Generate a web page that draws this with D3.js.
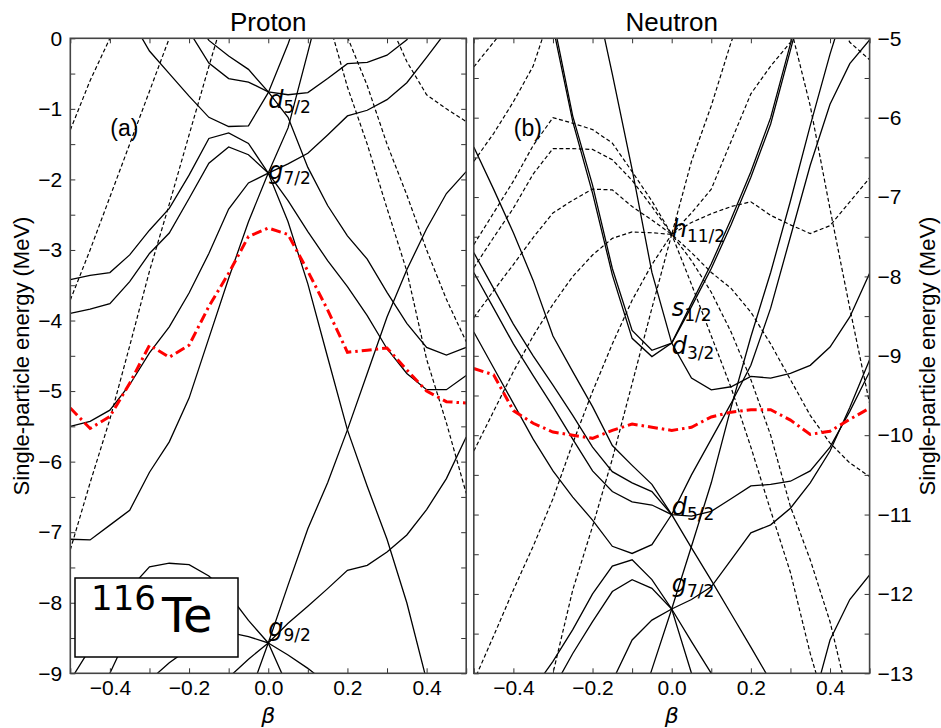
<!DOCTYPE html>
<html>
<head>
<meta charset="utf-8">
<script src="https://cdn.jsdelivr.net/npm/d3@7"></script>
<style>
body { margin: 0; background: #fff; }
</style>
</head>
<body>
<svg id="chart" width="941" height="728"></svg>
<script>
const _ = null;
// deformation grid shared by every level
const betaGrid = [-0.5, -0.45, -0.4, -0.35, -0.3, -0.25, -0.2, -0.15, -0.1, -0.05, 0,
                  0.05, 0.1, 0.15, 0.2, 0.25, 0.3, 0.35, 0.4, 0.45, 0.5];
const xTicks = [-0.5, -0.4, -0.3, -0.2, -0.1, 0, 0.1, 0.2, 0.3, 0.4, 0.5];

// proton levels (MeV), positive parity
const protonSolid = [
  [_, _, _, 0.3, -0.18, -0.5, -0.82, -1.12, -1.25, -1.24, -0.77, -0.08, 0.7, _, _, _, _, _, _, _, _],
  [_, _, _, _, _, _, 0.1, -0.35, -0.57, -0.62, -0.76, -0.8, -0.77, -0.57, -0.36, -0.34, -0.24, -0.02, 0.4, _, _],
  [_, _, _, _, _, _, 0.4, -0.03, -0.25, -0.44, -0.76, -1.12, -1.83, -2.37, -2.8, -3.13, -3.6, -4.04, -4.38, -4.49, -4.38],
  [-3.42, -3.36, -3.32, -3.07, -2.72, -2.41, -1.94, -1.42, -1.34, -1.49, -1.91, -2.3, -2.74, -3.15, -3.52, -3.93, -4.4, -4.75, -4.98, -4.98, -4.78],
  [-3.9, -3.84, -3.76, -3.45, -3.05, -2.76, -2.27, -1.77, -1.54, -1.65, -1.91, -2.6, -3.48, -4.52, -5.55, -6.35, -7.1, -8.0, -9.1, -10.2, _],
  [-5.5, -5.43, -5.27, -4.91, -4.46, -4.09, -3.61, -3.05, -2.42, -2.05, -1.91, -1.78, -1.63, -1.37, -1.1, -1.02, -0.87, -0.63, -0.27, 0.1, _],
  [-7.1, -7.11, -6.9, -6.69, -6.15, -5.72, -5.1, -4.25, -3.4, -2.6, -1.91, -1.27, -0.2, 0.9, _, _, _, _, _, _, _],
  [_, _, _, _, _, _, _, _, _, -9.35, -8.57, -7.75, -6.95, -6.3, -5.55, -4.75, -3.95, -3.28, -2.7, -2.2, -1.89],
  [_, _, _, _, -9.1, -8.85, -8.65, -8.5, -8.42, -8.48, -8.57, -8.29, -8.05, -7.8, -7.54, -7.47, -7.28, -7.04, -6.68, -6.24, -5.65],
  [-9.1, -8.65, -8.2, -7.8, -7.49, -7.44, -7.46, -7.62, -7.88, -8.25, -8.57, -9.2, _, _, _, _, _, _, _, _, _],
  [_, _, _, _, _, _, _, _, -9.06, -8.8, -8.57, -8.74, -8.93, -9.15, _, _, _, _, _, _, _],
  [_, -9.6, -9.0, -8.4, -7.95, _, _, _, _, _, _, _, _, _, _, _, _, _, _, _, _]
];
// proton levels, negative parity
const protonDashed = [
  [-1.3, -0.6, 0.0, 0.6, _, _, _, _, _, _, _, _, _, _, _, _, _, _, _, _, _],
  [-3.71, -3.0, -2.25, -1.5, -0.75, 0.0, 0.7, _, _, _, _, _, _, _, _, _, _, _, _, _, _],
  [-7.25, -6.3, -5.4, -4.36, -3.3, -2.35, -1.37, -0.4, 0.55, _, _, _, _, _, _, _, _, _, _, _, _],
  [_, _, _, _, _, _, _, _, _, _, _, _, _, _, _, _, 0.3, -0.33, -0.8, -1.0, -1.18],
  [_, _, _, _, _, _, _, _, _, _, _, _, _, 0.3, -0.69, -1.5, -2.41, -3.3, -4.55, -5.45, -6.45],
  [_, _, _, _, _, _, _, _, _, _, _, _, _, 0.8, 0.02, -0.67, -1.5, -2.22, -3.0, -3.7, -4.3]
];
const protonFermi = [-5.24, -5.53, -5.36, -4.89, -4.35, -4.52, -4.35, -3.8, -3.33, -2.81, -2.69,
                     -2.78, -3.3, -3.85, -4.45, -4.42, -4.39, -4.7, -5.0, -5.15, -5.17];

// neutron levels (MeV), positive parity
const neutronSolid = [
  [-8.7, -9.15, -9.6, -10.05, -10.45, -10.78, -11.07, -11.4, -11.49, -11.38, -11.0, -10.5, -10.05, -9.6, -9.12, -8.4, -7.5, -6.6, -5.83, -5.32, -5.02],
  [-7.7, -8.15, -8.6, -9.0, -9.37, -9.75, -10.15, -10.46, -10.6, -10.71, -11.0, -11.02, -10.96, -10.8, -10.64, -10.62, -10.58, -10.45, -10.15, -9.7, -9.2],
  [-7.95, -8.4, -8.85, -9.25, -9.64, -10.05, -10.45, -10.71, -10.84, -10.88, -11.0, -11.42, -11.83, -12.25, -12.67, -13.1, _, _, _, _, _],
  [_, _, _, -13.2, -12.85, -12.45, -12.0, -11.65, -11.57, -11.82, -12.19, -12.6, -13.0, -13.4, _, _, _, _, _, _, _],
  [_, _, _, _, -13.2, -12.75, -12.35, -11.97, -11.82, -11.93, -12.19, -13.0, -13.8, _, _, _, _, _, _, _, _],
  [_, _, _, _, _, _, -13.6, -13.1, -12.58, -12.33, -12.19, -12.07, -11.91, -11.57, -11.23, -11.13, -10.92, -10.6, -10.2, -9.65, -9.05],
  [_, _, _, _, _, _, _, _, -13.7, -12.95, -12.19, -11.4, -10.6, -9.65, -8.76, -7.95, -7.05, -6.1, -5.2, -4.4, _],
  [_, _, _, _, _, _, _, _, _, _, _, _, _, _, _, _, _, -13.5, -12.58, -12.07, -11.76],
  [_, _, _, _, -4.75, -5.98, -6.85, -7.9, -8.68, -8.93, -8.84, -8.38, -7.9, -7.35, -6.75, -6.08, -5.15, -4.2, _, _, _],
  [_, _, _, _, -4.85, -6.05, -6.95, -7.98, -8.78, -9.01, -8.84, -8.34, -7.84, -7.28, -6.68, -6.0, -5.07, -4.1, _, _, _],
  [_, _, _, _, _, _, -4.3, -5.45, -6.65, -7.95, -8.84, -9.28, -9.43, -9.39, -9.26, -9.28, -9.22, -9.12, -8.89, -8.51, -7.96],
  [-6.37, -6.9, -7.45, -8.05, -8.75, -9.2, -9.64, -10.13, -10.38, -10.62, -11.0, _, _, _, _, _, _, _, _, _, _]
];
// neutron levels, negative parity
const neutronDashed = [
  [-5.36, -5.05, -4.75, _, _, _, _, _, _, _, _, _, _, _, _, _, _, _, _, _, _],
  [-6.55, -6.2, -5.8, -5.35, -4.6, _, _, _, _, _, _, _, _, _, _, _, _, _, _, _, _],
  [-7.6, -7.2, -6.8, -6.35, -6.0, -6.07, -6.15, -6.32, -6.68, -7.05, -7.47, -6.55, -5.85, -5.05, -4.4, _, _, _, _, _, _],
  [-7.89, -7.51, -7.14, -6.71, -6.39, -6.39, -6.4, -6.53, -6.79, -7.12, -7.47, -7.2, -6.9, -6.3, -5.7, -5.35, -5.05, -4.75, _, _, _],
  [-8.52, -8.18, -7.85, -7.51, -7.2, -7.04, -6.9, -6.91, -7.12, -7.29, -7.47, -7.32, -7.21, -7.12, -7.06, -7.23, -7.35, -7.46, -7.36, -7.06, -6.76],
  [-10.2, -9.7, -9.2, -8.75, -8.35, -8.0, -7.73, -7.52, -7.44, -7.45, -7.47, -7.7, -7.95, -8.15, -8.45, -8.85, -9.3, -9.75, -10.1, -10.35, -10.52],
  [-13.1, -12.53, -11.95, -11.4, -10.8, -10.1, -9.45, -8.85, -8.3, -7.85, -7.47, -8.1, -8.75, -9.4, -10.15, -10.95, -11.73, -12.75, -13.6, _, _],
  [_, _, _, -14.0, -13.0, -11.95, -11.15, -10.3, -9.35, -8.4, -7.47, -7.8, -8.2, -8.7, -9.3, -10.0, -10.9, -11.57, -12.35, -13.4, _],
  [_, _, _, _, _, _, _, _, _, _, _, _, _, _, _, _, _, _, -4.6, -5.05, -5.27],
  [_, _, _, _, _, _, _, _, _, _, _, _, _, _, _, _, -4.85, -5.85, -7.15, -8.4, -9.6]
];
const neutronFermi = [-9.16, -9.24, -9.69, -9.85, -9.96, -10.0, -10.04, -9.94, -9.86, -9.9, -9.94,
                      -9.9, -9.77, -9.71, -9.68, -9.68, -9.81, -9.99, -9.95, -9.8, -9.66];

// orbital labels: [main letter, subscript, beta, energy]
const protonOrbitals = [["d", "5/2", 0.0, -0.99], ["g", "7/2", 0.0, -1.99], ["g", "9/2", 0.0, -8.47]];
const neutronOrbitals = [["h", "11/2", 0.0, -7.5], ["s", "1/2", 0.0, -8.5], ["d", "3/2", 0.0, -8.98],
                         ["d", "5/2", 0.0, -11.0], ["g", "7/2", 0.0, -11.98]];

const sans = "Liberation Sans, Arial, sans-serif";
const dejavu = "DejaVu Sans, sans-serif";
const svg = d3.select("#chart");

function drawPanel(p) {
  const x = d3.scaleLinear().domain([-0.5, 0.5]).range([p.x0, p.x1]);
  const y = d3.scaleLinear().domain(p.yDomain).range([673.3, 38.3]);
  const g = svg.append("g");

  const clipId = "clip-" + p.id;
  g.append("clipPath").attr("id", clipId)
    .append("rect").attr("x", p.x0).attr("y", 38.3).attr("width", p.x1 - p.x0).attr("height", 635);

  const line = d3.line()
    .defined(d => d[1] !== null)
    .x(d => x(d[0]))
    .y(d => y(d[1]));
  const toPts = s => betaGrid.map((b, i) => [b, s[i]]);

  const plot = g.append("g").attr("clip-path", `url(#${clipId})`);

  plot.selectAll("path.solid")
    .data(p.solid)
    .enter()
    .append("path")
    .attr("class", "solid")
    .attr("d", d => line(toPts(d)))
    .attr("fill", "none")
    .attr("stroke", "black")
    .attr("stroke-width", 1.3);

  plot.selectAll("path.dashed")
    .data(p.dashed)
    .enter()
    .append("path")
    .attr("class", "dashed")
    .attr("d", d => line(toPts(d)))
    .attr("fill", "none")
    .attr("stroke", "black")
    .attr("stroke-width", 1.2)
    .attr("stroke-dasharray", "4,2.5");

  plot.append("path")
    .attr("d", line(toPts(p.fermi)))
    .attr("fill", "none")
    .attr("stroke", "red")
    .attr("stroke-width", 3)
    .attr("stroke-dasharray", "10,4,2.5,4");

  // orbital labels
  p.orbitals.forEach(o => {
    const t = g.append("text")
      .attr("x", x(o[2]))
      .attr("y", y(o[3]))
      .attr("font-family", dejavu)
      .attr("font-style", "italic")
      .attr("font-size", 24);
    t.append("tspan").text(o[0]);
    t.append("tspan").attr("font-style", "normal").attr("font-size", 17).attr("dy", 5).text(o[1]);
  });

  // axes, ticks pointing inward
  const fmtX = v => (Math.round(v * 10) % 2 === 0 && Math.abs(v) < 0.5) ? d3.format(".1f")(v) : "";
  const yTicks = d3.range(p.yDomain[0], p.yDomain[1] + 0.01, 0.5);
  const fmtY = v => Number.isInteger(v) ? d3.format("d")(v) : "";

  const axB = g.append("g").attr("transform", "translate(0,673.3)")
    .call(d3.axisBottom(x).tickValues(xTicks).tickSize(-5).tickPadding(7).tickFormat(fmtX));
  const axT = g.append("g").attr("transform", "translate(0,38.3)")
    .call(d3.axisTop(x).tickValues(xTicks).tickSize(-5).tickFormat(""));
  const axL = g.append("g").attr("transform", `translate(${p.x0},0)`)
    .call(d3.axisLeft(y).tickValues(yTicks).tickSize(-5).tickPadding(8)
      .tickFormat(p.labelSide === "left" ? fmtY : ""));
  const axR = g.append("g").attr("transform", `translate(${p.x1},0)`)
    .call(d3.axisRight(y).tickValues(yTicks).tickSize(-5).tickPadding(8)
      .tickFormat(p.labelSide === "right" ? fmtY : ""));
  [axB, axT, axL, axR].forEach(a => {
    a.select(".domain").remove();
    a.selectAll("line").attr("stroke", "#333").attr("stroke-width", 1);
    a.selectAll("text").attr("font-size", 21).attr("font-family", sans).attr("fill", "black");
  });

  g.append("rect")
    .attr("x", p.x0).attr("y", 38.3)
    .attr("width", p.x1 - p.x0).attr("height", 635)
    .attr("fill", "none").attr("stroke", "#444").attr("stroke-width", 1.6);

  g.append("text")
    .attr("x", (p.x0 + p.x1) / 2).attr("y", 31)
    .attr("text-anchor", "middle").attr("font-size", 26).attr("font-family", sans)
    .text(p.title);
  g.append("text")
    .attr("x", x(0)).attr("y", 723)
    .attr("text-anchor", "middle").attr("font-size", 22)
    .attr("font-family", dejavu).attr("font-style", "italic")
    .text("β");
  g.append("text")
    .attr("x", p.x0 + 40).attr("y", 136)
    .attr("font-size", 23).attr("font-family", sans)
    .text(p.tag);
  g.append("text")
    .attr("transform", `translate(${p.yLabelX},356) rotate(-90)`)
    .attr("text-anchor", "middle").attr("font-size", 22).attr("font-family", sans)
    .text("Single-particle energy (MeV)");
  return { x, y, g };
}

drawPanel({
  id: "p", x0: 70.3, x1: 466.2, yDomain: [-9, 0], solid: protonSolid, dashed: protonDashed,
  fermi: protonFermi, orbitals: protonOrbitals, labelSide: "left", title: "Proton", tag: "(a)", yLabelX: 29
});
drawPanel({
  id: "n", x0: 473.8, x1: 869.6, yDomain: [-13, -5], solid: neutronSolid, dashed: neutronDashed,
  fermi: neutronFermi, orbitals: neutronOrbitals, labelSide: "right", title: "Neutron", tag: "(b)", yLabelX: 935
});

// nucleus box
const box = svg.append("g");
box.append("rect")
  .attr("x", 75).attr("y", 578).attr("width", 163).attr("height", 79)
  .attr("fill", "white").attr("stroke", "black").attr("stroke-width", 1.5);
const nt = box.append("text").attr("x", 91).attr("y", 632)
  .attr("font-family", dejavu);
nt.append("tspan").attr("font-size", 34).attr("dy", -22).text("116");
nt.append("tspan").attr("font-size", 48).attr("dx", 6).attr("dy", 22).text("Te");
</script>
</body>
</html>
